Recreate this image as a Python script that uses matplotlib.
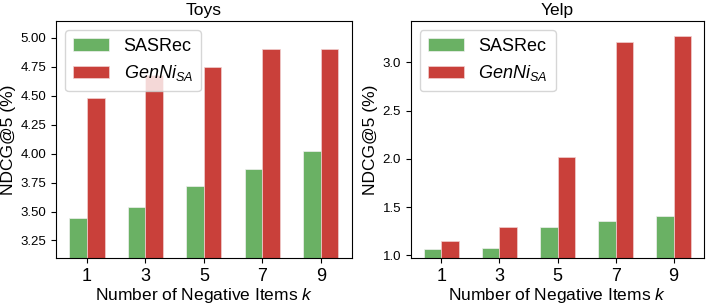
import numpy as np
import matplotlib
matplotlib.use('Agg')
from matplotlib import pyplot as plt

plt.rcParams['font.family'] = ['Liberation Sans', 'DejaVu Sans']
plt.rcParams['mathtext.fontset'] = 'custom'
plt.rcParams['mathtext.rm'] = 'Liberation Sans'
plt.rcParams['mathtext.it'] = 'Liberation Sans:italic'

k_labels = ['1', '3', '5', '7', '9']

toys_sasrec = [3.44, 3.54, 3.72, 3.87, 4.02]
toys_genni = [4.48, 4.68, 4.75, 4.90, 4.90]
toys_yticks = [3.25, 3.50, 3.75, 4.00, 4.25, 4.50, 4.75, 5.00]

yelp_sasrec = [1.07, 1.08, 1.29, 1.36, 1.41]
yelp_genni = [1.15, 1.30, 2.02, 3.21, 3.27]
yelp_yticks = [1.0, 1.5, 2.0, 2.5, 3.0]

green = '#6ab164'
red = '#c9403a'
width = 0.3

fig = plt.figure(figsize=(7.06, 3.07), dpi=100)
ax1 = fig.add_axes([0.0793, 0.160, 0.419, 0.772])
ax2 = fig.add_axes([0.5817, 0.160, 0.416, 0.772])

panels = [(ax1, 'Toys', toys_sasrec, toys_genni, (3.10, 5.145), toys_yticks, '%.2f'),
          (ax2, 'Yelp', yelp_sasrec, yelp_genni, (0.975, 3.43), yelp_yticks, '%.1f')]

x = np.arange(len(k_labels))
for ax, title, sas, gen, ylim, yticks, fmt in panels:
    ax.bar(x - width / 2, sas, width, color=green, edgecolor='#f0f0f0',
           linewidth=0.5, label='SASRec')
    ax.bar(x + width / 2, gen, width, color=red, edgecolor='#f0d0d0',
           linewidth=0.5, label='$GenNi_{SA}$')
    ax.set_ylim(*ylim)
    ax.set_xticks(x)
    ax.set_xticklabels(k_labels, fontsize=13)
    ax.set_yticks(yticks)
    ax.set_yticklabels([fmt % v for v in yticks])
    ax.tick_params(axis='y', labelsize=9.5)
    ax.set_title(title, fontsize=12.5, pad=4)
    ax.set_xlabel('Number of Negative Items $k$', fontsize=12.5, labelpad=1)
    ax.set_ylabel('NDCG@5 (%)', fontsize=12.5, labelpad=3)
    ax.legend(loc='upper left', fontsize=13, handlelength=2.0,
              handletextpad=0.8, borderpad=0.45, labelspacing=0.45)

fig.savefig('out.png', dpi=100)
